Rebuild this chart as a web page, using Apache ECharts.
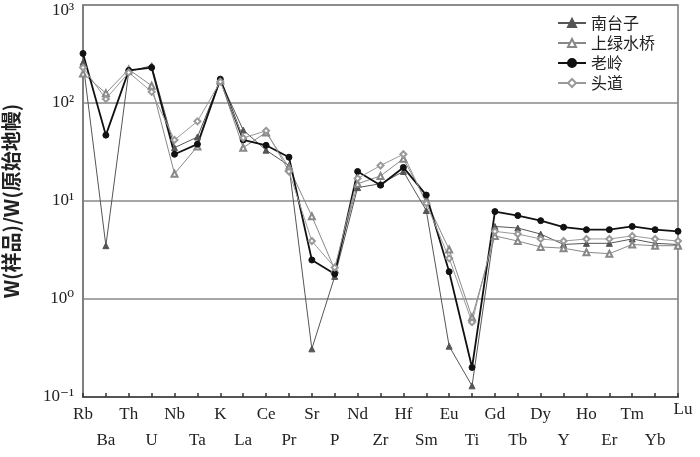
<!DOCTYPE html>
<html>
<head>
<meta charset="utf-8">
<script src="https://cdn.jsdelivr.net/npm/echarts@6/dist/echarts.min.js"></script>
<style>
  html, body { margin: 0; padding: 0; background: #fff; }
  #chart { width: 700px; height: 457px; }
</style>
</head>
<body>
<div id="chart"></div>
<script>
// 元素（原始地幔标准化蛛网图）
const elements = ['Rb', 'Ba', 'Th', 'U', 'Nb', 'Ta', 'K', 'La', 'Ce', 'Pr', 'Sr', 'P', 'Nd', 'Zr',
    'Hf', 'Sm', 'Eu', 'Ti', 'Gd', 'Tb', 'Dy', 'Y', 'Ho', 'Er', 'Tm', 'Yb', 'Lu'];

const nantaizi = [260, 3.5, 210, 240, 35, 45, 170, 53, 33, 23, 0.31, 1.7, 13.7, 15, 20, 8, 0.33, 0.13,
    5.5, 5.3, 4.6, 3.6, 3.7, 3.7, 4.1, 3.7, 3.6];
const shanglvshuiqiao = [200, 126, 220, 150, 19, 36, 170, 35, 50, 22, 7, 2.0, 15, 18, 27, 10, 3.2, 0.65,
    4.4, 3.9, 3.4, 3.3, 3.0, 2.9, 3.6, 3.5, 3.5];
const laoling = [320, 47, 215, 230, 30, 38, 175, 42, 37, 28, 2.5, 1.8, 20, 14.5, 22, 11.5, 1.9, 0.2,
    7.8, 7.1, 6.3, 5.4, 5.1, 5.1, 5.5, 5.1, 4.9];
const toudao = [230, 110, 205, 130, 42, 65, 165, 44, 52, 20, 3.9, 2.1, 17, 23, 30, 9.5, 2.6, 0.58,
    4.9, 4.6, 4.1, 3.9, 4.1, 4.1, 4.4, 4.1, 3.9];

const yTickLabels = {0.1: '10⁻¹', 1: '10⁰', 10: '10¹', 100: '10²', 1000: '10³'};

const serif = '"Liberation Serif", "DejaVu Serif", serif';
const cjk = '"Noto Sans CJK SC", sans-serif';

const makeSeries = (name, data, color, symbol, width) => ({
    name: name,
    type: 'line',
    data: data,
    symbol: symbol,
    symbolSize: 6,
    lineStyle: { color: color, width: width },
    itemStyle: { color: color, borderColor: color, borderWidth: 1 },
    z: 3
});

const myEcharts = echarts.init(document.getElementById('chart'));

const options = {
    animation: false,
    grid: {
        left: 83, right: 22, top: 5, bottom: 60,
        outerBoundsMode: 'none',
        show: true, borderColor: '#777', borderWidth: 1.5
    },
    legend: {
        orient: 'vertical',
        left: 552, top: 10,
        itemWidth: 28, itemHeight: 10, itemGap: 4,
        textStyle: { fontFamily: cjk, fontSize: 16, color: '#222' },
        data: ['南台子', '上绿水桥', '老岭', '头道']
    },
    xAxis: {
        type: 'category',
        data: elements,
        boundaryGap: false,
        axisLine: { lineStyle: { color: '#555', width: 2 } },
        axisTick: { inside: true, length: 4, alignWithLabel: true, lineStyle: { color: '#333', width: 1.5 } },
        axisLabel: {
            interval: 0,
            margin: 5,
            color: '#222',
            fontFamily: serif,
            fontSize: 17,
            lineHeight: 26,
            formatter: (v, i) => {
                if (v === 'Lu') return '{lu|Lu}';
                return i % 2 === 1 ? '\n' + v : v;
            },
            rich: {
                lu: { fontFamily: serif, fontSize: 17, color: '#222', padding: [0, 0, 10, 10] }
            }
        },
        splitLine: { show: false }
    },
    yAxis: {
        type: 'log',
        logBase: 10,
        min: 0.1,
        max: 1000,
        name: 'W(样品)/W(原始地幔)',
        nameLocation: 'middle',
        nameGap: 62,
        nameRotate: 90,
        nameTextStyle: { fontFamily: cjk, fontSize: 20, color: '#222', fontWeight: 'bold' },
        axisLine: { show: true, lineStyle: { color: '#777', width: 1.5 } },
        axisTick: { show: false },
        minorTick: { show: false },
        axisLabel: {
            color: '#222',
            fontFamily: serif,
            fontSize: 17,
            margin: 9,
            formatter: (v) => {
                const key = +v.toPrecision(3);
                const s = yTickLabels[key] || '';
                return key === 1000 ? '{top|' + s + '}' : s;
            },
            rich: {
                top: { fontFamily: serif, fontSize: 17, color: '#222', padding: [12, 0, 0, 0] }
            }
        },
        splitLine: { show: true, lineStyle: { color: '#888', width: 1.5 } }
    },
    series: [
        makeSeries('南台子', nantaizi, '#555', 'triangle', 1),
        makeSeries('上绿水桥', shanglvshuiqiao, '#888', 'emptyTriangle', 1),
        makeSeries('老岭', laoling, '#111', 'circle', 1.8),
        makeSeries('头道', toudao, '#999', 'emptyDiamond', 1)
    ]
};

myEcharts.setOption(options);
</script>
</body>
</html>
